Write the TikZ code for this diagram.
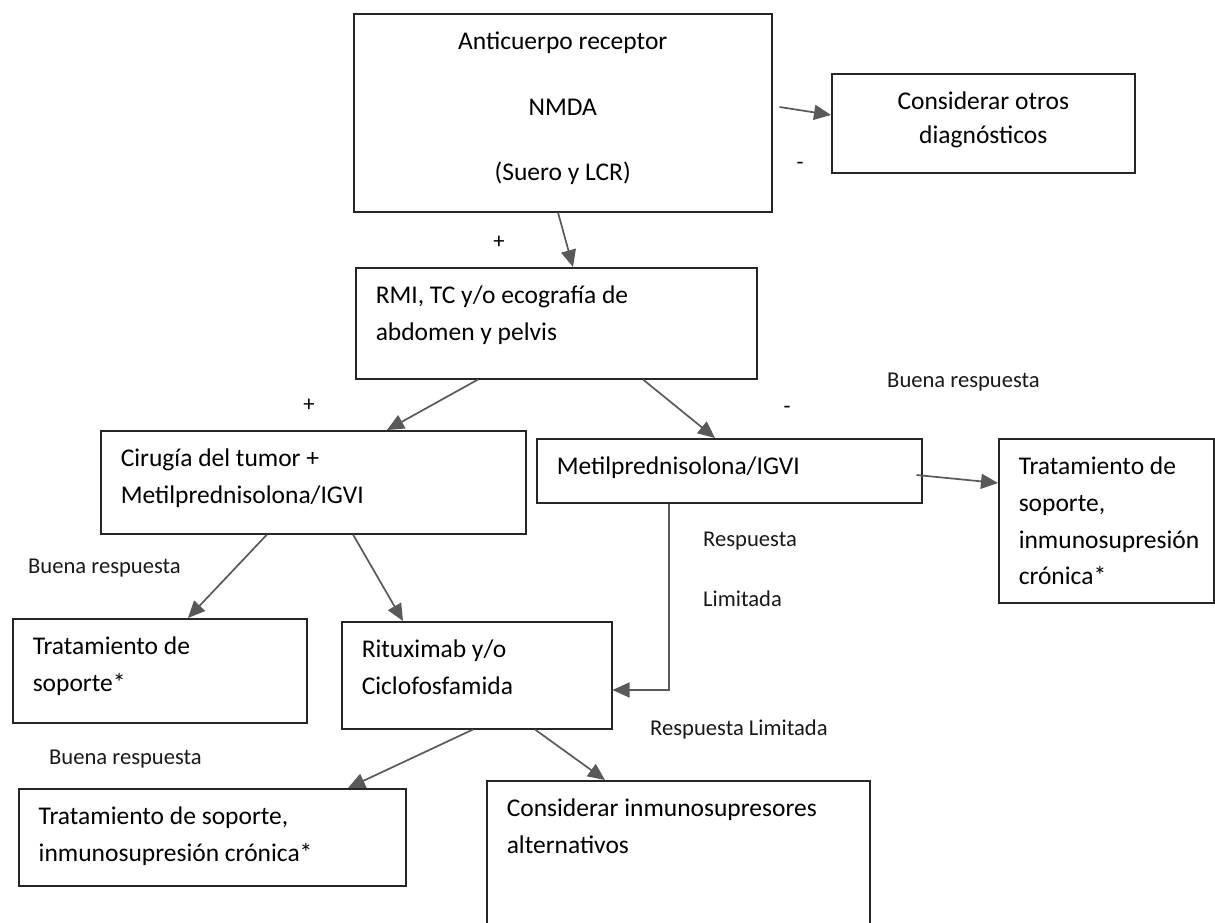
\documentclass[tikz,border=0pt]{standalone}
\usepackage{fontspec}
\setmainfont{Carlito}
\usetikzlibrary{arrows.meta, calc}
\newcommand{\cuerpo}{\fontsize{25.5}{36.7}\selectfont}
\newcommand{\rotulofont}{\fontsize{22.6}{27}\selectfont}
\newcommand{\izq}{\raggedright\leftskip=20pt\relax}
\newcommand{\contenido}[4][\izq]{\begin{minipage}[t][#3][t]{#2}#1\rule{0pt}{36pt}#4\end{minipage}}
\tikzset{
    caja/.style={draw=black!85, line width=1.5pt, anchor=north west, inner sep=0pt, font=\cuerpo},
    flecha/.style={draw=black!65, line width=1.7pt, -{Triangle[length=17pt, width=15pt]}},
    rotulo/.style={font=\rotulofont, text=black!90, inner sep=0pt, anchor=base west},
    signo/.style={font=\rotulofont, inner sep=0pt}
}

\begin{document}
\begin{tikzpicture}[x=1pt, y=-1pt]
    \useasboundingbox (0,0) rectangle (1215,922);
    \clip (0,0) rectangle (1215,922);
    % cajas
    \node[caja] (anticuerpo) at (353,13) {\contenido[\centering\fontsize{25.5}{65.5}\selectfont]{418pt}{198pt}{Anticuerpo receptor\\NMDA\\(Suero y LCR)}};
    \node[caja] (otros) at (831,73) {\contenido[\centering\fontsize{25.5}{34}\selectfont]{303pt}{99pt}{Considerar otros\\diagnósticos}};
    \node[caja] (rmi) at (355,267) {\contenido{401pt}{111pt}{RMI, TC y/o ecografía de\\abdomen y pelvis}};
    \node[caja] (cirugia) at (100,430) {\contenido{425pt}{103pt}{Cirugía del tumor +\\Metilprednisolona/IGVI}};
    \node[caja] (metil) at (536,438) {\contenido{385pt}{64pt}{Metilprednisolona/IGVI}};
    \node[caja] (sostenA) at (998,438) {\contenido{215pt}{164pt}{Tratamiento de\\soporte,\\inmunosupresión\\crónica*}};
    \node[caja] (sostenB) at (12,618) {\contenido{294pt}{104pt}{Tratamiento de\\soporte*}};
    \node[caja] (ritux) at (341,621) {\contenido{270pt}{107pt}{Rituximab y/o\\Ciclofosfamida}};
    \node[caja] (sostenC) at (18,788) {\contenido{387pt}{97pt}{Tratamiento de soporte,\\inmunosupresión crónica*}};
    \node[caja] (alternos) at (486,780) {\contenido{383pt}{160pt}{Considerar inmunosupresores\\alternativos}};
    % rotulos
    \node[signo] (menosA) at (800,166) {-};
    \node[signo] (masA) at (499,242) {+};
    \node[rotulo] (buenaA) at (887,387) {Buena respuesta};
    \node[signo] (masB) at (309,405) {+};
    \node[signo] (menosB) at (787,410) {-};
    \node[rotulo] (buenaB) at (28,573) {Buena respuesta};
    \node[rotulo] (respA) at (703,546) {Respuesta};
    \node[rotulo] (limA) at (703,606) {Limitada};
    \node[rotulo] (respB) at (650,735) {Respuesta Limitada};
    \node[rotulo] (buenaC) at (49,764) {Buena respuesta};
    % flechas
    \draw[flecha] ($(anticuerpo.north east)+(7,94)$) -- ($(otros.north west)+(0,42)$);
    \draw[flecha] ($(anticuerpo.south west)+(205,0)$) -- ($(rmi.north west)+(218,0)$);
    \draw[flecha] ($(rmi.south west)+(123,0)$) -- ($(cirugia.north west)+(287,0)$);
    \draw[flecha] ($(rmi.south west)+(288,0)$) -- ($(metil.north west)+(179,0)$);
    \draw[flecha] ($(metil.north east)+(-6,37)$) -- ($(sostenA.north west)+(0,45)$);
    \draw[flecha] ($(cirugia.south west)+(167,0)$) -- ($(sostenB.north west)+(176,0)$);
    \draw[flecha] ($(cirugia.south west)+(253,0)$) -- ($(ritux.north west)+(62,0)$);
    \draw[flecha] ($(metil.south west)+(133,0)$) |- ($(ritux.north east)+(0,69)$);
    \draw[flecha] ($(ritux.south west)+(132,0)$) -- ($(sostenC.north west)+(330,0)$);
    \draw[flecha] ($(ritux.south west)+(194,0)$) -- ($(alternos.north west)+(119,0)$);
\end{tikzpicture}
\end{document}
